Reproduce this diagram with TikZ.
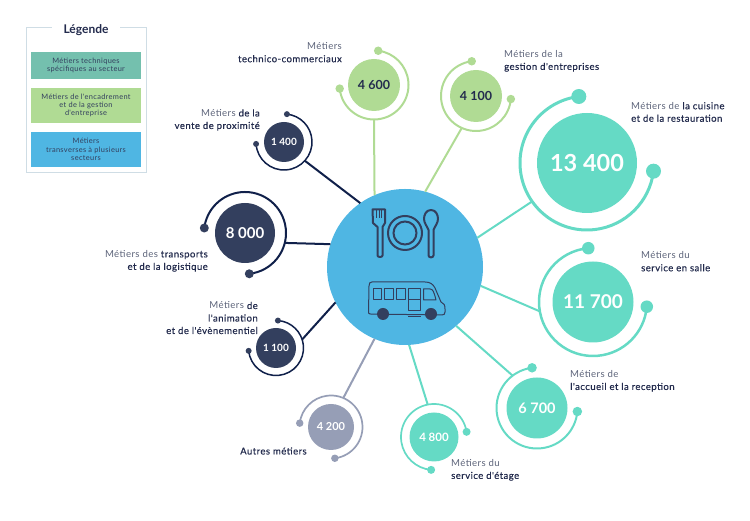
\documentclass[tikz,border=0pt]{standalone}
\usepackage{xcolor}
\usepackage{fontspec}
\setmainfont{Lato}
\newfontfamily\InkFont[LetterSpace=4.5,FakeBold=0.3]{Lato}
\newfontfamily\LightFont[LetterSpace=4.5]{Lato}
\usetikzlibrary{positioning, calc}
\definecolor{mint}{HTML}{65DAC5}
\definecolor{leaf}{HTML}{B0DB94}
\definecolor{night}{HTML}{333F5E}
\definecolor{nightline}{HTML}{10204A}
\definecolor{slate}{HTML}{969EB6}
\definecolor{sky}{HTML}{4FB6E3}
\definecolor{teal}{HTML}{74C0AE}
\definecolor{frameline}{HTML}{CFDDE5}
\definecolor{inkdark}{HTML}{232B4D}
\definecolor{inklight}{HTML}{5C6379}
\newcommand{\Lt}[1]{{\LightFont\textcolor{inklight}{#1}}}
\newcommand{\Size}[1]{\fontsize{#1}{#1}\selectfont\bfseries}
\tikzstyle{Disk} = [circle, inner sep=0pt, outer sep=0pt, text=white]
\tikzstyle{Ring} = [circle, inner sep=0pt, outer sep=0pt]
\tikzstyle{Knob} = [circle, inner sep=0pt, outer sep=0pt]
\tikzstyle{Spoke} = [line width=2pt]
\tikzstyle{Label} = [inner sep=0pt, text=inkdark,
font=\InkFont\fontsize{9.6}{12.5}\selectfont]
\tikzstyle{LabelL} = [Label, anchor=west, align=left]
\tikzstyle{LabelR} = [Label, anchor=east, align=right]
\tikzstyle{LegendBox} = [minimum width=110pt, inner sep=0pt, align=center,
text=night, font=\LightFont\fontsize{7.4}{8.2}\selectfont]
\tikzstyle{Icon} = [night, line width=2pt, line join=round, line cap=round]
\tikzstyle{Bus} = [night, line width=1pt, line join=round]

\begin{document}
\begin{tikzpicture}[x=1pt, y=1pt]
    \useasboundingbox (0,0) rectangle (750,521);

    % legend
    \node [draw=frameline, line width=1pt, minimum width=120pt, minimum height=145pt, inner sep=0pt] (legend) at (86,420.5) {};
    \node [fill=white, draw=white, minimum width=67pt, minimum height=30pt, inner sep=0pt, font=\fontsize{12}{12}\selectfont\bfseries, text=inkdark] (legendtitle) at (86,491) {Légende};
    \node [LegendBox, fill=teal, minimum height=27.5pt] (legendtech) at (86,455.5) {Métiers techniques\\spécifiques au secteur};
    \node [LegendBox, fill=leaf, minimum height=35.5pt] (legendcadre) at (86,415.5) {Métiers de l'encadrement\\et de la gestion\\d'entreprise};
    \node [LegendBox, fill=sky, minimum height=35.5pt] (legendtrans) at (86,371.5) {Métiers\\transverses à plusieurs\\secteurs};

    % centre
    \node [circle, fill=sky, minimum size=156pt, inner sep=0pt, outer sep=0pt] (hub) at (405,254) {};

    % rings
    \node [Disk, fill=mint, minimum size=100pt, font=\Size{23.5}] (cuisine) at (587,358) {13 400};
    \node [Ring, minimum size=134pt] (cuisinering) at (cuisine) {};
    \draw [mint, line width=3pt] (cuisinering.97) arc [start angle=97, end angle=353, radius=67pt];
    \node [Knob, fill=mint, minimum size=15pt] (cuisineA) at (cuisinering.97) {};
    \node [Knob, fill=mint, minimum size=15pt] (cuisineB) at (cuisinering.353) {};

    \node [Disk, fill=mint, minimum size=81pt, font=\Size{19}] (salle) at (593,219) {11 700};
    \node [Ring, minimum size=108pt] (sallering) at (salle) {};
    \draw [mint, line width=2.5pt] (sallering.95) arc [start angle=95, end angle=355, radius=54pt];
    \node [Knob, fill=mint, minimum size=12.5pt] (salleA) at (sallering.95) {};
    \node [Knob, fill=mint, minimum size=12.5pt] (salleB) at (sallering.355) {};

    \node [Disk, fill=mint, minimum size=61pt, font=\Size{14.5}] (accueil) at (537,113) {6 700};
    \node [Ring, minimum size=81pt] (accueilring) at (accueil) {};
    \draw [mint, line width=2pt] (accueilring.97) arc [start angle=97, end angle=355, radius=40.5pt];
    \node [Knob, fill=mint, minimum size=9.5pt] (accueilA) at (accueilring.97) {};
    \node [Knob, fill=mint, minimum size=9.5pt] (accueilB) at (accueilring.355) {};

    \node [Disk, fill=mint, minimum size=49pt, font=\Size{11.5}] (etage) at (434,84) {4 800};
    \node [Ring, minimum size=66pt] (etagering) at (etage) {};
    \draw [mint, line width=1.7pt] (etagering.9) arc [start angle=9, end angle=265, radius=33pt];
    \node [Knob, fill=mint, minimum size=8pt] (etageA) at (etagering.9) {};
    \node [Knob, fill=mint, minimum size=8pt] (etageB) at (etagering.265) {};

    \node [Disk, fill=slate, minimum size=46pt, font=\Size{11}] (autres) at (331,94) {4 200};
    \node [Ring, minimum size=63pt] (autresring) at (autres) {};
    \draw [slate, line width=1.7pt] (autresring.-83) arc [start angle=-83, end angle=173, radius=31.5pt];
    \node [Knob, fill=slate, minimum size=7.5pt] (autresA) at (autresring.-83) {};
    \node [Knob, fill=slate, minimum size=7.5pt] (autresB) at (autresring.173) {};

    \node [Disk, fill=night, minimum size=40pt, font=\Size{10}] (anim) at (276,173) {1 100};
    \node [Ring, minimum size=55pt] (animring) at (anim) {};
    \draw [nightline, line width=1.5pt] (animring.186) arc [start angle=186, end angle=446, radius=27.5pt];
    \node [Knob, fill=night, minimum size=6pt] (animA) at (animring.186) {};
    \node [Knob, fill=night, minimum size=6pt] (animB) at (animring.86) {};

    \node [Disk, fill=night, minimum size=60pt, font=\Size{15}] (transp) at (245,288) {8 000};
    \node [Ring, minimum size=82pt] (transpring) at (transp) {};
    \draw [nightline, line width=2pt] (transpring.-84) arc [start angle=-84, end angle=173, radius=41pt];
    \node [Knob, fill=night, minimum size=9pt] (transpA) at (transpring.-84) {};
    \node [Knob, fill=night, minimum size=9pt] (transpB) at (transpring.173) {};

    \node [Disk, fill=night, minimum size=40pt, font=\Size{10}] (vente) at (284,379) {1 400};
    \node [Ring, minimum size=56pt] (ventering) at (vente) {};
    \draw [nightline, line width=1.5pt] (ventering.184) arc [start angle=184, end angle=444, radius=28pt];
    \node [Knob, fill=night, minimum size=6pt] (venteA) at (ventering.184) {};
    \node [Knob, fill=night, minimum size=6pt] (venteB) at (ventering.84) {};

    \node [Disk, fill=leaf, minimum size=52pt, text=inkdark, font=\Size{12.5}] (techno) at (374,436) {4 600};
    \node [Ring, minimum size=69pt] (technoring) at (techno) {};
    \draw [leaf, line width=2pt] (technoring.186) arc [start angle=186, end angle=443, radius=34.5pt];
    \node [Knob, fill=leaf, minimum size=8.5pt] (technoA) at (technoring.186) {};
    \node [Knob, fill=leaf, minimum size=8.5pt] (technoB) at (technoring.83) {};

    \node [Disk, fill=leaf, minimum size=52pt, text=inkdark, font=\Size{12.5}] (gestion) at (476,425) {4 100};
    \node [Ring, minimum size=70pt] (gestionring) at (gestion) {};
    \draw [leaf, line width=2pt] (gestionring.97) arc [start angle=97, end angle=355, radius=35pt];
    \node [Knob, fill=leaf, minimum size=8.5pt] (gestionA) at (gestionring.97) {};
    \node [Knob, fill=leaf, minimum size=8.5pt] (gestionB) at (gestionring.355) {};

    % spokes
    \draw [Spoke, mint] (hub.22) -- (cuisinering.215.5);
    \draw [Spoke, mint] (hub.-14) -- (sallering.190.5);
    \draw [Spoke, mint] (hub.-49.6) -- (accueilring.127);
    \draw [Spoke, mint] (hub.-87) -- (etagering.101.6);
    \draw [Spoke, slate] (hub.247.6) -- (autresring.67.5);
    \draw [Spoke, nightline] (hub.207) -- (animring.18);
    \draw [Spoke, nightline] (hub.163) -- (transpring.-14);
    \draw [Spoke, nightline] (hub.125.7) -- (ventering.-42);
    \draw [Spoke, leaf] (hub.113.4) -- (technoring.south);
    \draw [Spoke, leaf] (hub.75.5) -- (gestionring.246);

    % labels
    \node [LabelR] (labtechno) at (342,468.5) {\Lt{Métiers}\\technico-commerciaux};
    \node [LabelR] (labvente) at (260,401) {\Lt{Métiers} de la\\vente de proximité};
    \node [LabelL] (labgestion) at (504,460) {\Lt{Métiers de la}\\gestion d'entreprises};
    \node [LabelL] (labcuisine) at (631,409) {\Lt{Métiers de} la cuisine\\et de la restauration};
    \node [LabelL] (labsalle) at (641,259.5) {\Lt{Métiers du}\\service en salle};
    \node [LabelL] (labaccueil) at (570,140) {\Lt{Métiers de}\\l'accueil et la reception};
    \node [LabelL] (labetage) at (451,51) {\Lt{Métiers du}\\service d'étage};
    \node [LabelL] (labautres) at (240,70) {Autres métiers};
    \node [LabelR] (labanim) at (258,203) {\Lt{Métiers} de\\l'animation\\et de l'évènementiel};
    \node [LabelR] (labtransp) at (208,260) {\Lt{Métiers des} transports\\et de la logistique};

    % fork, plate, spoon
    \draw [Icon] (372.5,311.5) -- (385,311.5) -- (385,298) -- (382.5,294) -- (382.5,265.5) .. controls (382.5,263.5) and (377.5,263.5) .. (377.5,265.5) -- (377.5,294) -- (373,298) -- cycle;
    \draw [night, line width=1pt] (376.5,311) -- (376.5,303) (379,311) -- (379,303) (381.5,311) -- (381.5,303);
    \node [circle, draw=night, line width=2pt, minimum size=34pt, inner sep=0pt] (plate) at (405,288) {};
    \node [circle, draw=night, line width=2pt, minimum size=23pt, inner sep=0pt] (plateinner) at (plate) {};
    \draw [Icon] (431,311) .. controls (436,311) and (438,306) .. (438,302) .. controls (438,298) and (434.5,294) .. (433.5,291) -- (433.5,265.5) .. controls (433.5,263) and (428.5,263) .. (428.5,265.5) -- (428.5,291) .. controls (427.5,294) and (424,298) .. (424,302) .. controls (424,306) and (426,311) .. (431,311) -- cycle;

    % bus
    \draw [Bus] (368.5,208) -- (369,235) .. controls (369,238) and (370,239) .. (372,239) -- (425,239) .. controls (430,239) and (433,237) .. (435,233) -- (441,219) .. controls (444,218) and (445,216) .. (445,212) -- (445,209) .. controls (445,207) and (444,206) .. (442,206) -- (370,207) -- cycle;
    \draw [Bus] (373.5,221) rectangle (381,232);
    \draw [Bus] (384,221) rectangle (393.5,232);
    \draw [Bus] (396,221) rectangle (405.5,232);
    \draw [Bus] (408.5,210) rectangle (420.5,232);
    \draw [Bus] (408.5,221) -- (420.5,221);
    \draw [Bus] (423.5,221) -- (423.5,232) -- (430,232) .. controls (433,232) and (434,229) .. (436,221) -- cycle;
    \draw [Bus] (408,204) -- (420.5,204);
    \node [circle, fill=night, minimum size=12pt, inner sep=0pt] (wheelA) at (383,207) {};
    \node [circle, fill=night, minimum size=12pt, inner sep=0pt] (wheelB) at (431,207) {};
\end{tikzpicture}
\end{document}
